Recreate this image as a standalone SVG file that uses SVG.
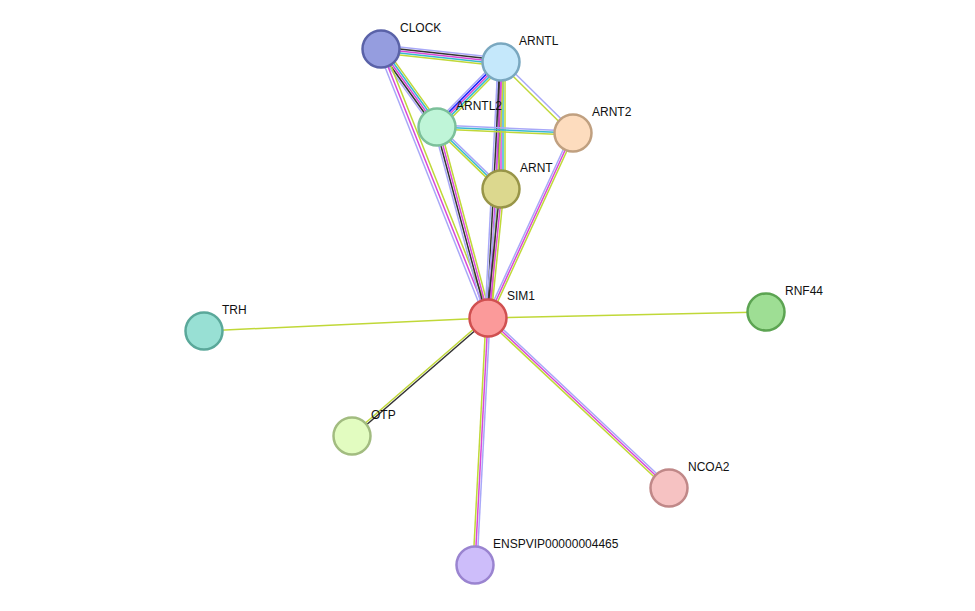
<svg xmlns="http://www.w3.org/2000/svg" width="975" height="611" viewBox="0 0 975 611">
<style>
line{stroke-width:1.5}
.h{stroke:#a8a8f8}.k{stroke:#333}.m{stroke:#d848d8}.c{stroke:#38b8d0}.y{stroke:#c0d838}.b{stroke:#2020ff}
circle{stroke-width:2.5}
text{font-family:"Liberation Sans",Arial,sans-serif;font-size:12px;fill:#111}
</style>
<rect width="975" height="611" fill="#fff"/>
<g id="connectors">
<!-- CLOCK-ARNTL -->
<line class="h" x1="381" y1="49" x2="501" y2="62" transform="translate(0,-4)"/>
<line class="k" x1="381" y1="49" x2="501" y2="62" transform="translate(0,-2)"/>
<line class="m" x1="381" y1="49" x2="501" y2="62"/>
<line class="c" x1="381" y1="49" x2="501" y2="62" transform="translate(0,2)"/>
<line class="y" x1="381" y1="49" x2="501" y2="62" transform="translate(0,4)"/>
<!-- CLOCK-ARNTL2 -->
<line class="h" x1="381" y1="49" x2="437" y2="127" transform="translate(-3.2,2.4)"/>
<line class="k" x1="381" y1="49" x2="437" y2="127" transform="translate(-1.6,1.2)"/>
<line class="m" x1="381" y1="49" x2="437" y2="127"/>
<line class="c" x1="381" y1="49" x2="437" y2="127" transform="translate(1.6,-1.2)"/>
<line class="y" x1="381" y1="49" x2="437" y2="127" transform="translate(3.2,-2.4)"/>
<!-- CLOCK-SIM1 -->
<line class="h" x1="381" y1="49" x2="488" y2="318" transform="translate(-2.8,1)"/>
<line class="m" x1="381" y1="49" x2="488" y2="318"/>
<line class="y" x1="381" y1="49" x2="488" y2="318" transform="translate(2.8,-1)"/>
<!-- ARNTL2-SIM1 -->
<line class="h" x1="437" y1="127" x2="488" y2="318" transform="translate(-3,0.8)"/>
<line class="k" x1="437" y1="127" x2="488" y2="318" transform="translate(-1,0.3)"/>
<line class="m" x1="437" y1="127" x2="488" y2="318" transform="translate(1,-0.3)"/>
<line class="y" x1="437" y1="127" x2="488" y2="318" transform="translate(3,-0.8)"/>
<!-- ARNTL-ARNTL2 -->
<line class="h" x1="501" y1="62" x2="437" y2="127" transform="translate(-2.8,-2.8)"/>
<line class="b" x1="501" y1="62" x2="437" y2="127" transform="translate(-1.4,-1.4)"/>
<line class="m" x1="501" y1="62" x2="437" y2="127"/>
<line class="c" x1="501" y1="62" x2="437" y2="127" transform="translate(1.4,1.4)"/>
<line class="y" x1="501" y1="62" x2="437" y2="127" transform="translate(2.8,2.8)"/>
<!-- ARNTL-ARNT2 -->
<line class="h" x1="501" y1="62" x2="573" y2="133" transform="translate(1.2,-1.2)"/>
<line class="y" x1="501" y1="62" x2="573" y2="133" transform="translate(-1.2,1.2)"/>
<!-- ARNTL-ARNT -->
<line class="h" x1="501" y1="62" x2="501" y2="189" transform="translate(-4,0)"/>
<line class="k" x1="501" y1="62" x2="501" y2="189" transform="translate(-2,0)"/>
<line class="m" x1="501" y1="62" x2="501" y2="189"/>
<line class="c" x1="501" y1="62" x2="501" y2="189" transform="translate(2,0)"/>
<line class="y" x1="501" y1="62" x2="501" y2="189" transform="translate(4,0)"/>
<!-- ARNTL-SIM1 -->
<line class="h" x1="501" y1="62" x2="488" y2="318" transform="translate(-3,0)"/>
<line class="k" x1="501" y1="62" x2="488" y2="318" transform="translate(-1,0)"/>
<line class="m" x1="501" y1="62" x2="488" y2="318" transform="translate(1,0)"/>
<line class="y" x1="501" y1="62" x2="488" y2="318" transform="translate(3,0)"/>
<!-- ARNTL2-ARNT2 -->
<line class="h" x1="437" y1="127" x2="573" y2="133" transform="translate(0,-2)"/>
<line class="c" x1="437" y1="127" x2="573" y2="133"/>
<line class="y" x1="437" y1="127" x2="573" y2="133" transform="translate(0,2)"/>
<!-- ARNTL2-ARNT -->
<line class="h" x1="437" y1="127" x2="501" y2="189" transform="translate(1.4,-1.4)"/>
<line class="c" x1="437" y1="127" x2="501" y2="189"/>
<line class="y" x1="437" y1="127" x2="501" y2="189" transform="translate(-1.4,1.4)"/>
<!-- ARNT2-SIM1 -->
<line class="h" x1="573" y1="133" x2="488" y2="318" transform="translate(-1.8,-0.8)"/>
<line class="m" x1="573" y1="133" x2="488" y2="318"/>
<line class="y" x1="573" y1="133" x2="488" y2="318" transform="translate(1.8,0.8)"/>
<!-- ARNT-SIM1 -->
<line class="h" x1="501" y1="189" x2="488" y2="318" transform="translate(-3,0)"/>
<line class="k" x1="501" y1="189" x2="488" y2="318" transform="translate(-1,0)"/>
<line class="m" x1="501" y1="189" x2="488" y2="318" transform="translate(1,0)"/>
<line class="y" x1="501" y1="189" x2="488" y2="318" transform="translate(3,0)"/>
<!-- SIM1 others -->
<line class="y" x1="488" y1="318" x2="204" y2="331"/>
<line class="y" x1="488" y1="318" x2="766" y2="312"/>
<line class="y" x1="488" y1="318" x2="352" y2="436" transform="translate(-0.7,-0.8)"/>
<line class="k" x1="488" y1="318" x2="352" y2="436" transform="translate(0.7,0.8)"/>
<line class="h" x1="488" y1="318" x2="669" y2="488" transform="translate(1.4,-1.5)"/>
<line class="m" x1="488" y1="318" x2="669" y2="488"/>
<line class="y" x1="488" y1="318" x2="669" y2="488" transform="translate(-1.4,1.5)"/>
<line class="h" x1="488" y1="318" x2="475" y2="565" transform="translate(2,0)"/>
<line class="m" x1="488" y1="318" x2="475" y2="565"/>
<line class="y" x1="488" y1="318" x2="475" y2="565" transform="translate(-2,0)"/>
</g>
<g id="CLOCK"><circle cx="381" cy="49" r="18.5" fill="#959ddf" stroke="#5a62a8"/><text x="400" y="32">CLOCK</text></g>
<g id="ARNTL"><circle cx="501" cy="62" r="18.5" fill="#c5e8fb" stroke="#7aa8c0"/><text x="519" y="45">ARNTL</text></g>
<g id="ARNTL2"><circle cx="437" cy="127" r="18.5" fill="#bff5d8" stroke="#7cc09a"/><text x="456" y="110">ARNTL2</text></g>
<g id="ARNT2"><circle cx="573" cy="133" r="18.5" fill="#fddcbe" stroke="#c0a080"/><text x="592" y="116">ARNT2</text></g>
<g id="ARNT"><circle cx="501" cy="189" r="18.5" fill="#dcd88e" stroke="#989548"/><text x="520" y="172">ARNT</text></g>
<g id="SIM1"><circle cx="488" cy="318" r="18.5" fill="#fb9a9a" stroke="#d05050"/><text x="507" y="300">SIM1</text></g>
<g id="TRH"><circle cx="204" cy="331" r="18.5" fill="#98e0d4" stroke="#5aa89a"/><text x="222" y="314">TRH</text></g>
<g id="RNF44"><circle cx="766" cy="312" r="18.5" fill="#9ede94" stroke="#5ca452"/><text x="785" y="295">RNF44</text></g>
<g id="OTP"><circle cx="352" cy="436" r="18.5" fill="#e2fcc0" stroke="#a2bc80"/><text x="371" y="419">OTP</text></g>
<g id="NCOA2"><circle cx="669" cy="488" r="18.5" fill="#f6c2c2" stroke="#c08888"/><text x="688" y="471">NCOA2</text></g>
<g id="ENSPVIP00000004465"><circle cx="475" cy="565" r="18.5" fill="#cdbdfa" stroke="#9a84d0"/><text x="493" y="548">ENSPVIP00000004465</text></g>
</svg>
